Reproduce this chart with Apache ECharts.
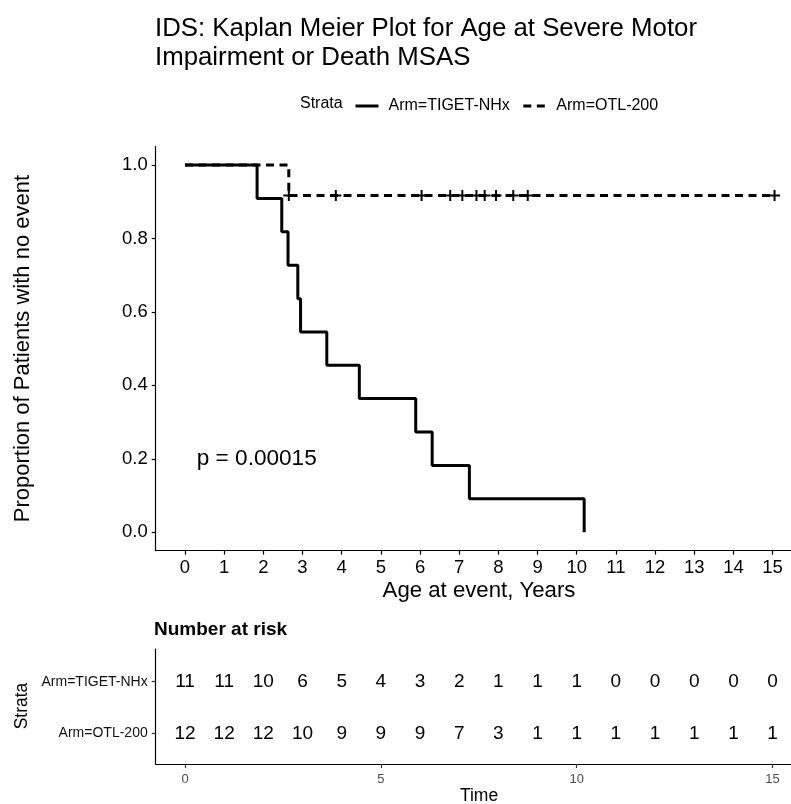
<!DOCTYPE html>
<html>
<head>
<meta charset="utf-8">
<script src="https://cdn.jsdelivr.net/npm/echarts@6/dist/echarts.min.js"></script>
<style>
html,body{margin:0;padding:0;background:#fff;}
#c{width:791px;height:804px;}
</style>
</head>
<body>
<div id="c"></div>
<script>
// ---- data ----
const tigetTimes = [0, 1.84, 2.47, 2.63, 2.88, 2.95, 3.62, 4.45, 5.89, 6.31, 7.26, 10.19];
const tigetSurv  = [1, 0.909, 0.818, 0.727, 0.636, 0.545, 0.455, 0.364, 0.273, 0.182, 0.091, 0];
const otlTimes   = [0, 2.65, 15.05];
const otlSurv    = [1, 0.917, 0.917];
const otlCensorTimes = [2.65, 3.85, 6.04, 6.77, 7.08, 7.44, 7.65, 7.94, 8.38, 8.75, 15.05];
const otlCensorSurv  = [0.917, 0.917, 0.917, 0.917, 0.917, 0.917, 0.917, 0.917, 0.917, 0.917, 0.917];
const riskTimes  = [0,1,2,3,4,5,6,7,8,9,10,11,12,13,14,15];
const riskTiget  = [11,11,10,6,5,4,3,2,1,1,1,0,0,0,0,0];
const riskOtl    = [12,12,12,10,9,9,9,7,3,1,1,1,1,1,1,1];
const xTicks     = [0,1,2,3,4,5,6,7,8,9,10,11,12,13,14,15];
const yTicks     = [0,0.2,0.4,0.6,0.8,1.0];
const riskXTicks = [0,5,10,15];
const strataNames = ['Arm=TIGET-NHx', 'Arm=OTL-200'];
const pValueText = 'p = 0.00015';

const FONT = "'Liberation Sans', Arial, sans-serif";
const chart = echarts.init(document.getElementById('c'), null, {renderer: 'canvas'});

const zip = (a, b) => a.map((v, i) => [v, b[i]]);
const plusPath = 'path://M4.1,0h1.8v10h-1.8z M0,4.1h10v1.8h-10z';

const axisLineStyle = {show: true, onZero: false, lineStyle: {color: '#000', width: 1.2}};

const option = {
  backgroundColor: '#ffffff',
  animation: false,
  textStyle: {fontFamily: FONT},
  title: {
    text: 'IDS: Kaplan Meier Plot for Age at Severe Motor\nImpairment or Death MSAS',
    left: 155, top: 14, padding: 0,
    textStyle: {fontFamily: FONT, fontSize: 25.8, fontWeight: 'normal', color: '#000', lineHeight: 29}
  },
  legend: {
    data: strataNames,
    left: 354, top: 98, padding: 0,
    itemWidth: 23, itemHeight: 14, itemGap: 12,
    itemStyle: {opacity: 0},
    lineStyle: {width: 3},
    textStyle: {fontFamily: FONT, fontSize: 16, color: '#000', padding: [0, 0, 0, 5]}
  },
  grid: [
    {left: 155.7, right: 0, top: 146.6, height: 404},
    {left: 155.7, right: 0, top: 649, height: 115}
  ],
  xAxis: [
    {
      type: 'value', gridIndex: 0, min: -0.748, max: 15.47,
      axisLine: axisLineStyle,
      axisTick: {show: true, customValues: xTicks, length: 4, lineStyle: {color: '#000', width: 1.2}},
      axisLabel: {customValues: xTicks, fontSize: 18.5, color: '#000', margin: 8, fontFamily: FONT},
      splitLine: {show: false}
    },
    {
      type: 'value', gridIndex: 1, min: -0.748, max: 15.47,
      axisLine: axisLineStyle,
      axisTick: {show: true, customValues: riskXTicks, length: 4, lineStyle: {color: '#333', width: 1.2}},
      axisLabel: {customValues: riskXTicks, fontSize: 13, color: '#4d4d4d', margin: 9, fontFamily: FONT},
      splitLine: {show: false}
    }
  ],
  yAxis: [
    {
      type: 'value', gridIndex: 0, min: -0.05, max: 1.05,
      axisLine: axisLineStyle,
      axisTick: {show: true, customValues: yTicks, length: 4, lineStyle: {color: '#000', width: 1.2}},
      axisLabel: {customValues: yTicks, fontSize: 18.5, color: '#000', margin: 8, fontFamily: FONT,
                  formatter: v => Number(v).toFixed(1)},
      splitLine: {show: false}
    },
    {
      type: 'value', gridIndex: 1, min: 0.405, max: 2.634,
      axisLine: axisLineStyle,
      axisTick: {show: true, customValues: [1, 2], length: 4, lineStyle: {color: '#333', width: 1.2}},
      axisLabel: {customValues: [1, 2], fontSize: 14, color: '#111', margin: 8, fontFamily: FONT,
                  formatter: v => (Math.round(v) === 2 ? strataNames[0] : strataNames[1])},
      splitLine: {show: false}
    }
  ],
  series: [
    {
      name: strataNames[1], type: 'line', xAxisIndex: 0, yAxisIndex: 0,
      step: 'end', symbol: 'none', data: zip(otlTimes, otlSurv),
      lineStyle: {color: '#000', width: 3, type: [8, 5.5]}, itemStyle: {color: '#000'}
    },
    {
      name: strataNames[0], type: 'line', xAxisIndex: 0, yAxisIndex: 0,
      step: 'end', symbol: 'none', data: zip(tigetTimes, tigetSurv),
      lineStyle: {color: '#000', width: 3, type: 'solid'}, itemStyle: {color: '#000'}
    },
    {
      name: 'censorOTL', type: 'scatter', xAxisIndex: 0, yAxisIndex: 0,
      symbol: plusPath, symbolSize: 11, data: zip(otlCensorTimes, otlCensorSurv),
      itemStyle: {color: '#000', opacity: 1}, z: 5
    },
    {
      name: 'pvalue', type: 'scatter', xAxisIndex: 0, yAxisIndex: 0,
      symbolSize: 0, data: [[0.3, 0.2]], itemStyle: {opacity: 1},
      label: {show: true, position: 'right', distance: 0, formatter: pValueText,
              fontSize: 22.6, color: '#000', fontFamily: FONT}
    },
    {
      name: 'riskTiget', type: 'scatter', xAxisIndex: 1, yAxisIndex: 1,
      symbolSize: 0, data: riskTimes.map((t, i) => [t, 2, riskTiget[i]]), itemStyle: {opacity: 1},
      label: {show: true, position: 'inside', formatter: p => String(p.value[2]),
              fontSize: 19, color: '#000', fontFamily: FONT}
    },
    {
      name: 'riskOtl', type: 'scatter', xAxisIndex: 1, yAxisIndex: 1,
      symbolSize: 0, data: riskTimes.map((t, i) => [t, 1, riskOtl[i]]), itemStyle: {opacity: 1},
      label: {show: true, position: 'inside', formatter: p => String(p.value[2]),
              fontSize: 19, color: '#000', fontFamily: FONT}
    }
  ],
  graphic: [
    {type: 'text', left: 300, top: 96, style: {text: 'Strata', fontSize: 16, fill: '#000', fontFamily: FONT}},
    {type: 'text', x: 23, y: 348.6, rotation: Math.PI / 2,
     style: {text: 'Proportion of Patients with no event', fontSize: 22, fill: '#000', fontFamily: FONT,
             align: 'center', verticalAlign: 'middle'}},
    {type: 'text', x: 479, y: 591,
     style: {text: 'Age at event, Years', fontSize: 22.2, fill: '#000', fontFamily: FONT,
             align: 'center', verticalAlign: 'middle'}},
    {type: 'text', x: 154, y: 630,
     style: {text: 'Number at risk', fontSize: 19, fontWeight: 'bold', fill: '#000', fontFamily: FONT,
             align: 'left', verticalAlign: 'middle'}},
    {type: 'text', x: 22, y: 706, rotation: Math.PI / 2,
     style: {text: 'Strata', fontSize: 17.5, fill: '#000', fontFamily: FONT,
             align: 'center', verticalAlign: 'middle'}},
    {type: 'text', x: 479, y: 796,
     style: {text: 'Time', fontSize: 17.5, fill: '#000', fontFamily: FONT,
             align: 'center', verticalAlign: 'middle'}}
  ]
};
chart.setOption(option);
</script>
</body>
</html>
